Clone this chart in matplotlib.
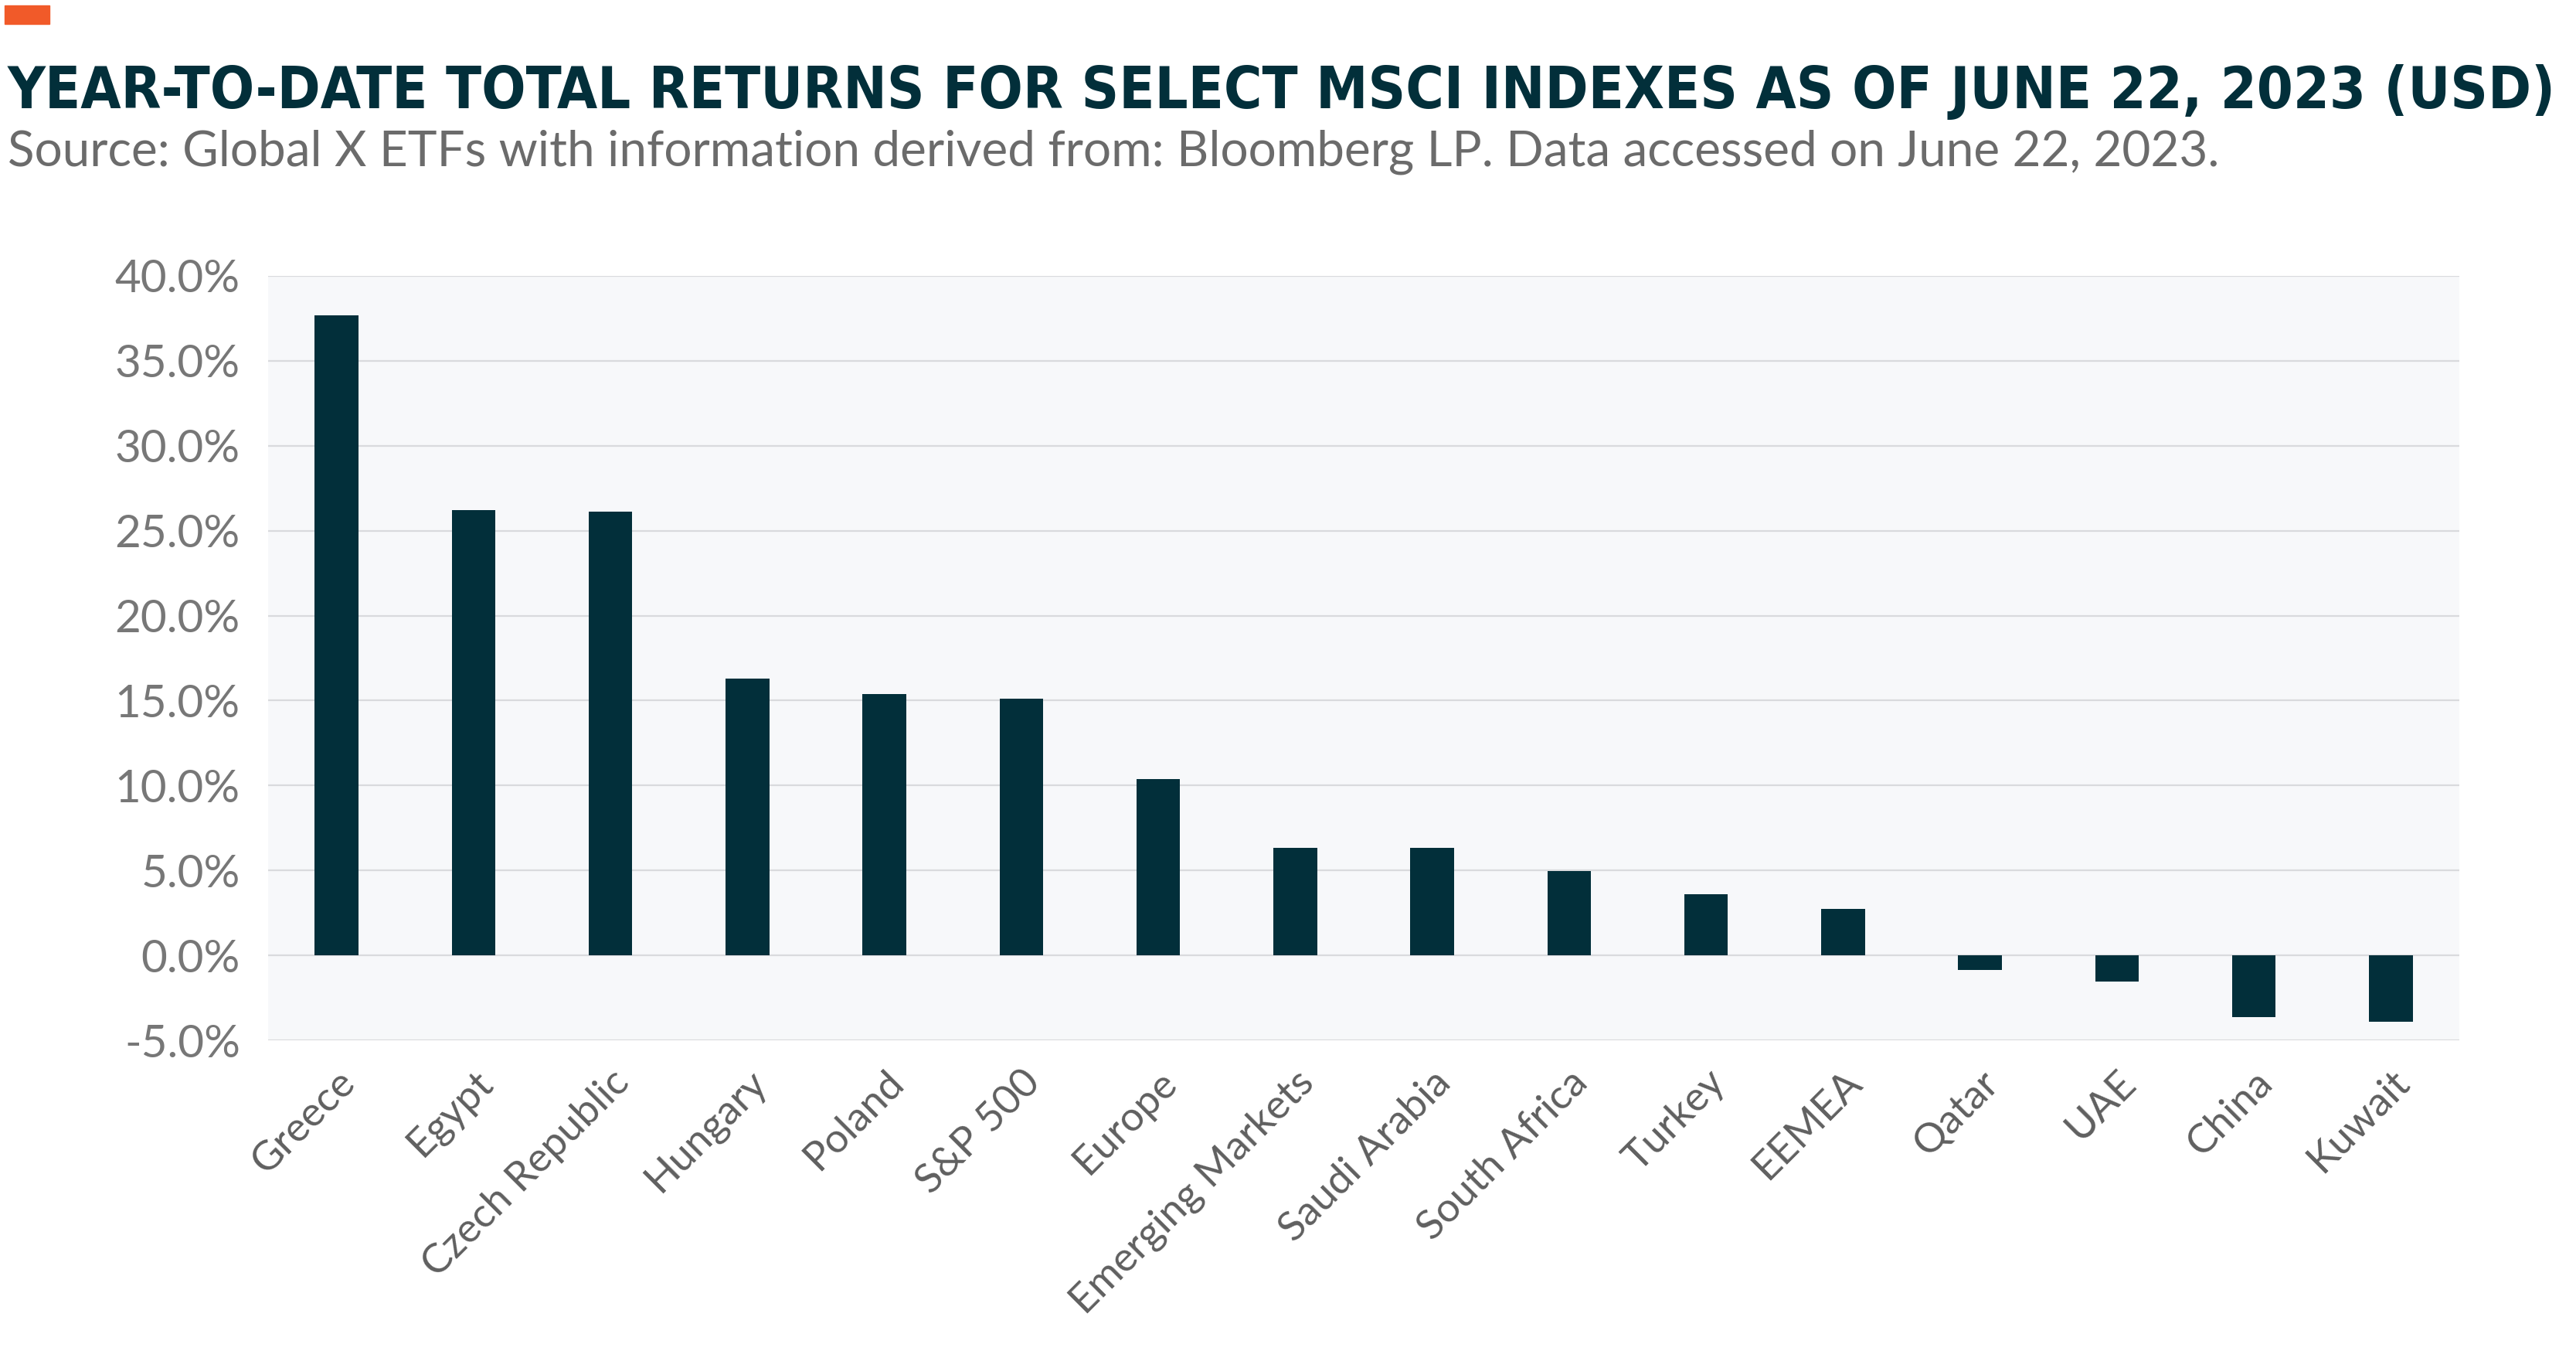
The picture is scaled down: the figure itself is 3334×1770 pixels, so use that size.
import numpy as np
import matplotlib
matplotlib.use("Agg")
from matplotlib import pyplot as plt
from matplotlib import font_manager
from matplotlib.patches import Rectangle

# data
markets = ["Greece", "Egypt", "Czech Republic", "Hungary", "Poland", "S&P 500",
           "Europe", "Emerging Markets", "Saudi Arabia", "South Africa", "Turkey",
           "EEMEA", "Qatar", "UAE", "China", "Kuwait"]
ytd_returns = [37.7, 26.2, 26.1, 16.3, 15.4, 15.1,
               10.4, 6.35, 6.35, 4.95, 3.6,
               2.75, -0.85, -1.55, -3.65, -3.9]
y_ticks = [-5, 0, 5, 10, 15, 20, 25, 30, 35, 40]

title = "YEAR-TO-DATE TOTAL RETURNS FOR SELECT MSCI INDEXES AS OF JUNE 22, 2023 (USD)"
subtitle = "Source: Global X ETFs with information derived from: Bloomberg LP. Data accessed on June 22, 2023."

dark = "#022F3A"
grey_txt = "#6b6b6b"

W, H = 3334, 1770
fig = plt.figure(figsize=(W / 100, H / 100), dpi=100)
fig.patch.set_facecolor("white")

# look for a condensed bold face for the title, else Roboto
title_fp = None
for f in font_manager.fontManager.ttflist:
    nm = (f.name + " " + str(f.fname)).lower()
    if ("condensed" in nm or "narrow" in nm) and f.weight in ("bold", 700) and "oblique" not in nm and "italic" not in nm:
        title_fp = font_manager.FontProperties(fname=f.fname)
        break
if title_fp is None:
    title_fp = font_manager.FontProperties(family="Roboto", weight="bold")

# orange tag top-left
fig.patches.append(Rectangle((6 / W, 1 - 31 / H), 58 / W, 24 / H,
                             transform=fig.transFigure, color="#F15A29"))

t = fig.text(10 / W, 1 - 140 / H, title, fontproperties=title_fp, fontsize=64,
             color=dark, va="baseline", ha="left")
# shrink title to the reference width
r = fig.canvas.get_renderer()
tw = t.get_window_extent(r).width
target = 3296
if tw > target:
    t.set_fontsize(64 * target / tw)

fig.text(10 / W, 1 - 215 / H, subtitle, fontsize=46,
         family="Lato", color=grey_txt, va="baseline", ha="left")

ax = fig.add_axes([347 / W, 1 - 1346 / H, (3183 - 347) / W, (1346 - 357) / H])
ax.set_facecolor("#F7F8FA")
x = np.arange(len(markets))
ax.bar(x, ytd_returns, width=0.32, color=dark, zorder=3)

ax.set_xlim(-0.5, len(markets) - 0.5)
ax.set_ylim(-5, 40)
ax.set_yticks(y_ticks)
ax.set_yticklabels([f"{v:.1f}%" for v in y_ticks])
ax.yaxis.grid(True, color="#D9DADD", linewidth=1.6, zorder=0)
ax.set_axisbelow(True)
for s in ax.spines.values():
    s.set_visible(False)
ax.tick_params(axis="both", length=0)
ax.tick_params(axis="y", labelsize=42, labelcolor="#777777", pad=26)

ax.set_xticks(x)
ax.set_xticklabels(markets, rotation=45, ha="right", rotation_mode="anchor",
                   fontsize=38, color="#5f5f5f")
ax.tick_params(axis="x", pad=22)
for lab in ax.get_yticklabels() + ax.get_xticklabels():
    lab.set_family("Lato")

fig.savefig("out.png", dpi=100)
